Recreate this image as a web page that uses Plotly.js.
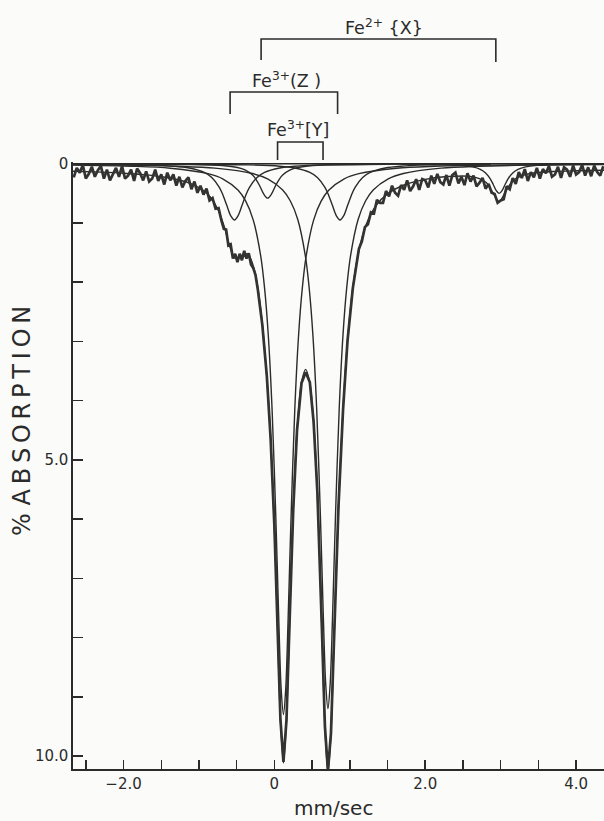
<!DOCTYPE html>
<html>
<head>
<meta charset="utf-8">
<script src="https://cdn.plot.ly/plotly-3.0.1.min.js"></script>
<style>
  html, body { margin: 0; padding: 0; background: #fbfbf9; }
  #chart { width: 604px; height: 821px; }
</style>
</head>
<body>
<div id="chart"></div>
<script>
// ---- Measured spectrum (velocity in mm/sec, % absorption) ----
const dataVelocity = [
  -2.66,-2.62,-2.58,-2.54,-2.50,-2.46,-2.42,-2.38,-2.34,-2.30,
  -2.26,-2.22,-2.18,-2.14,-2.10,-2.06,-2.02,-1.98,-1.94,-1.90,
  -1.86,-1.82,-1.78,-1.74,-1.70,-1.66,-1.62,-1.58,-1.54,-1.50,
  -1.46,-1.42,-1.38,-1.34,-1.30,-1.26,-1.22,-1.18,-1.14,-1.10,
  -1.06,-1.02,-0.98,-0.94,-0.90,-0.86,-0.82,-0.78,-0.74,-0.70,
  -0.67,-0.64,-0.61,-0.58,-0.55,-0.52,-0.49,-0.46,-0.43,-0.40,
  -0.37,-0.34,-0.31,-0.28,-0.25,-0.22,
  -0.16,-0.10,-0.05,0.00,0.04,0.08,0.12,0.16,0.20,0.25,0.30,0.36,0.415,
  0.47,0.52,0.57,0.63,0.67,0.71,0.75,0.79,0.85,0.91,0.97,1.04,
  1.08,1.12,1.16,1.20,1.24,1.28,1.32,1.36,1.40,1.44,1.48,1.52,1.56,1.60,
  1.64,1.68,1.72,1.76,1.80,1.84,1.88,1.92,1.96,2.00,2.04,2.08,2.12,2.16,
  2.20,2.24,2.28,2.32,2.36,2.40,2.44,2.48,2.52,2.56,2.60,2.64,2.68,2.72,
  2.76,2.80,2.84,2.88,2.92,2.96,3.00,3.04,3.08,3.12,3.16,3.20,3.24,3.28,
  3.32,3.36,3.40,3.44,3.48,3.52,3.56,3.60,3.64,3.68,3.72,3.76,3.80,3.84,
  3.88,3.92,3.96,4.00,4.04,4.08,4.12,4.16,4.20,4.24,4.28,4.32,4.36
];
const dataAbsorption = [
  0.23,0.07,0.15,0.02,0.25,0.17,0.05,0.22,0.11,0.04,
  0.25,0.10,0.28,0.16,0.07,0.22,0.04,0.25,0.20,0.10,
  0.29,0.08,0.16,0.28,0.13,0.30,0.25,0.10,0.29,0.18,
  0.35,0.15,0.28,0.18,0.37,0.22,0.40,0.29,0.23,0.43,
  0.30,0.49,0.37,0.52,0.42,0.62,0.58,0.76,0.75,0.97,
  1.10,1.11,1.38,1.36,1.60,1.52,1.66,1.52,1.63,1.47,
  1.60,1.51,1.70,1.76,1.88,2.12,
  2.72,3.59,4.64,6.12,7.76,9.38,10.10,9.40,7.79,5.84,4.50,3.70,3.52,
  3.69,4.36,5.55,7.86,9.50,10.25,9.62,8.07,5.78,4.16,2.98,2.10,
  1.77,1.44,1.31,1.07,1.02,0.82,0.84,0.61,0.66,0.66,0.46,0.55,0.37,0.49,
  0.54,0.36,0.44,0.28,0.46,0.38,0.26,0.44,0.26,0.28,0.40,0.20,0.34,0.17,
  0.31,0.35,0.19,0.37,0.19,0.15,0.33,0.22,0.36,0.16,0.30,0.20,0.38,0.32,
  0.24,0.42,0.34,0.49,0.51,0.66,0.62,0.60,0.38,0.43,0.24,0.34,0.14,0.24,
  0.09,0.29,0.14,0.23,0.07,0.25,0.09,0.16,0.04,0.22,0.18,0.05,0.24,0.06,
  0.10,0.22,0.03,0.18,0.14,0.02,0.20,0.06,0.21,0.03,0.14,0.20,0.04
];

// ---- Fitted envelope ----
const fitVelocity = [
  -2.67,-2.3,-2.0,-1.7,-1.45,-1.25,-1.1,-0.95,-0.85,-0.75,
  -0.67,-0.6,-0.53,-0.46,-0.4,-0.34,-0.28,-0.22,-0.16,-0.1,
  -0.05,0.0,0.04,0.08,0.12,0.16,0.2,0.25,0.3,0.36,
  0.415,0.47,0.52,0.57,0.63,0.67,0.71,0.75,0.79,0.85,
  0.91,0.97,1.04,1.12,1.22,1.35,1.5,1.7,2.0,2.3,
  2.6,2.8,2.9,2.98,3.06,3.16,3.35,3.7,4.0,4.37
];
const fitAbsorption = [
  0.126,0.141,0.159,0.188,0.227,0.278,0.339,0.443,0.562,0.767,
  1.040,1.358,1.590,1.579,1.516,1.546,1.724,2.090,2.706,3.607,
  4.633,6.134,7.756,9.389,10.12,9.407,7.789,5.832,4.512,3.687,
  3.472,3.703,4.354,5.562,7.863,9.513,10.28,9.623,8.066,5.787,
  4.149,2.991,2.090,1.465,1.017,0.702,0.509,0.367,0.263,0.215,
  0.213,0.307,0.493,0.643,0.485,0.288,0.175,0.131,0.118,0.110
];

// ---- Sub-spectra (single lines) ----
const y1Velocity = [-2.67,-1.88,-1.38,-0.88,-0.68,-0.48,-0.38,-0.28,-0.18,-0.13,-0.08,-0.03,0.02,0.06,0.09,0.12,
  0.15,0.18,0.22,0.27,0.32,0.37,0.42,0.52,0.62,0.72,0.92,1.12,1.62,2.12,2.62,3.12,4.37];
const y1Absorption = [0.022,0.042,0.075,0.167,0.258,0.448,0.632,0.951,1.567,2.100,2.912,4.164,6.010,7.775,8.874,9.30,
  8.874,7.775,6.010,4.164,2.912,2.100,1.567,0.951,0.632,0.448,0.258,0.167,0.075,0.042,0.027,0.019,0.009];

const y2Velocity = [-2.67,-2.29,-1.79,-1.29,-0.79,-0.29,-0.09,0.11,0.21,0.31,0.41,0.46,0.51,0.56,0.61,0.65,0.68,0.71,
  0.74,0.77,0.81,0.86,0.91,0.96,1.01,1.11,1.21,1.31,1.51,1.71,2.21,2.71,3.21,3.71,4.37];
const y2Absorption = [0.015,0.019,0.027,0.042,0.074,0.165,0.255,0.443,0.625,0.941,1.550,2.078,2.881,4.120,5.946,7.691,8.778,9.20,
  8.778,7.691,5.946,4.120,2.881,2.078,1.550,0.941,0.625,0.443,0.255,0.165,0.074,0.042,0.027,0.019,0.0125];

const z1Velocity = [-2.53,-1.73,-1.33,-1.13,-0.93,-0.83,-0.73,-0.68,-0.63,-0.58,-0.53,-0.48,-0.43,-0.38,-0.33,-0.23,-0.13,0.07,0.27,0.67,1.47];
const z1Absorption = [0.007,0.019,0.041,0.071,0.145,0.231,0.398,0.534,0.706,0.874,0.95,0.874,0.706,0.534,0.398,0.231,0.145,0.071,0.041,0.019,0.007];

const z2Velocity = [-1.13,-0.33,0.07,0.27,0.47,0.57,0.67,0.72,0.77,0.82,0.87,0.92,0.97,1.02,1.07,1.17,1.27,1.47,1.67,2.07,2.87];
const z2Absorption = [0.007,0.019,0.041,0.071,0.145,0.231,0.398,0.534,0.706,0.874,0.95,0.874,0.706,0.534,0.398,0.231,0.145,0.071,0.041,0.019,0.007];

const x1Velocity = [-2.09,-1.09,-0.69,-0.49,-0.39,-0.29,-0.24,-0.19,-0.14,-0.09,-0.04,0.01,0.06,0.11,0.21,0.31,0.51,0.91,1.91];
const x1Absorption = [0.003,0.011,0.030,0.063,0.104,0.191,0.270,0.384,0.514,0.58,0.514,0.384,0.270,0.191,0.104,0.063,0.030,0.011,0.003];

const x2Velocity = [1.68,2.18,2.48,2.63,2.73,2.80,2.86,2.90,2.94,2.98,3.02,3.06,3.10,3.16,3.23,3.33,3.48,3.78,4.28];
const x2Absorption = [0.004,0.011,0.027,0.053,0.094,0.154,0.250,0.346,0.450,0.50,0.450,0.346,0.250,0.154,0.094,0.053,0.027,0.011,0.004];

const baselineVelocity = [-2.67, 4.37];
const baselineAbsorption = [0, 0];

// ---- Ticks ----
const xTickVals = [-2.5,-2.0,-1.5,-1.0,-0.5,0,0.5,1.0,1.5,2.0,2.5,3.0,3.5,4.0];
const xTickText = ['','\u22122.0','','','','0','','','','2.0','','','','4.0'];
const yTickVals = [0,1,2,3,4,5,6,7,8,9,10];
const yTickText = ['0','','','','','5.0','','','','','10.0'];

// ---- Doublet bracket labels and axis titles ----
const bracketLabels = ['Fe<sup>2+</sup> {X}', 'Fe<sup>3+</sup>(Z )', 'Fe<sup>3+</sup>[Y]'];
const yTitle = '% A\u2009B\u2009S\u2009O\u2009R\u2009P\u2009T\u2009I\u2009O\u2009N';
const xTitle = 'mm/sec';

const INK = '#2b2b2b';
const FONT = '"DejaVu Sans", "Open Sans", sans-serif';

// layout geometry (pixels)
const M = { l: 73, r: 0, t: 162, b: 52 };
const W = 604, H = 821;
const plotW = W - M.l - M.r, plotH = H - M.t - M.b;
const py = v => (H - M.b - v) / plotH;          // pixel row -> paper y
const px = v => (v - M.l) / plotW;               // pixel col -> paper x

function comp(x, y) {
  return { x: x, y: y, type: 'scatter', mode: 'lines',
    line: { color: INK, width: 1.4, shape: 'spline', smoothing: 0.9 },
    hoverinfo: 'skip', showlegend: false };
}

const traces = [
  { x: baselineVelocity, y: baselineAbsorption, type: 'scatter', mode: 'lines',
    line: { color: INK, width: 1.6 }, hoverinfo: 'skip', showlegend: false },
  comp(y1Velocity, y1Absorption),
  comp(y2Velocity, y2Absorption),
  comp(z1Velocity, z1Absorption),
  comp(z2Velocity, z2Absorption),
  comp(x1Velocity, x1Absorption),
  comp(x2Velocity, x2Absorption),
  { x: fitVelocity, y: fitAbsorption, type: 'scatter', mode: 'lines',
    line: { color: INK, width: 1.4, shape: 'spline', smoothing: 0.8 },
    hoverinfo: 'skip', showlegend: false },
  { x: dataVelocity, y: dataAbsorption, type: 'scatter', mode: 'lines',
    line: { color: '#333333', width: 2.7 }, hoverinfo: 'skip', showlegend: false }
];

function bracket(x0, x1, rowTop, rowL, rowR) {
  return { type: 'path', xref: 'x', yref: 'paper',
    path: `M ${x0},${py(rowL)} L ${x0},${py(rowTop)} L ${x1},${py(rowTop)} L ${x1},${py(rowR)}`,
    line: { color: INK, width: 1.6 } };
}

function label(text, x, row, size) {
  return { text: text, x: x, y: py(row), xref: 'x', yref: 'paper',
    xanchor: 'center', yanchor: 'middle', showarrow: false,
    font: { family: FONT, size: size, color: INK } };
}

const layout = {
  width: W, height: H,
  paper_bgcolor: '#fbfbf9', plot_bgcolor: '#fbfbf9',
  margin: M,
  showlegend: false,
  font: { family: FONT, color: INK, size: 15 },
  xaxis: {
    range: [-2.67, 4.37], showgrid: false, zeroline: false,
    showline: true, linecolor: INK, linewidth: 1.6,
    ticks: 'inside', ticklen: 9, tickwidth: 1.5, tickcolor: INK,
    tickvals: xTickVals, ticktext: xTickText,
    tickfont: { family: FONT, size: 15, color: INK }
  },
  yaxis: {
    range: [10.22, -0.03], showgrid: false, zeroline: false,
    showline: true, linecolor: INK, linewidth: 1.6,
    ticks: 'inside', ticklen: 10, tickwidth: 1.5, tickcolor: INK,
    tickvals: yTickVals, ticktext: yTickText,
    tickfont: { family: FONT, size: 15, color: INK }
  },
  shapes: [
    bracket(-0.176, 2.936, 39, 60, 62),
    bracket(-0.587, 0.838, 92, 114, 114),
    bracket(0.042, 0.645, 142, 160, 160)
  ],
  annotations: [
    label(bracketLabels[0], 1.453, 27, 17.5),
    label(bracketLabels[1], 0.155, 80, 17.5),
    label(bracketLabels[2], 0.314, 129, 17.5),
    { text: yTitle, textangle: -90, x: px(22), y: py(421), xref: 'paper', yref: 'paper',
      xanchor: 'center', yanchor: 'middle', showarrow: false,
      font: { family: FONT, size: 24, color: INK } },
    { text: xTitle, x: px(333), y: py(808), xref: 'paper', yref: 'paper',
      xanchor: 'center', yanchor: 'middle', showarrow: false,
      font: { family: FONT, size: 20, color: INK } }
  ]
};

Plotly.newPlot('chart', traces, layout, { staticPlot: true, displayModeBar: false });
</script>
</body>
</html>
